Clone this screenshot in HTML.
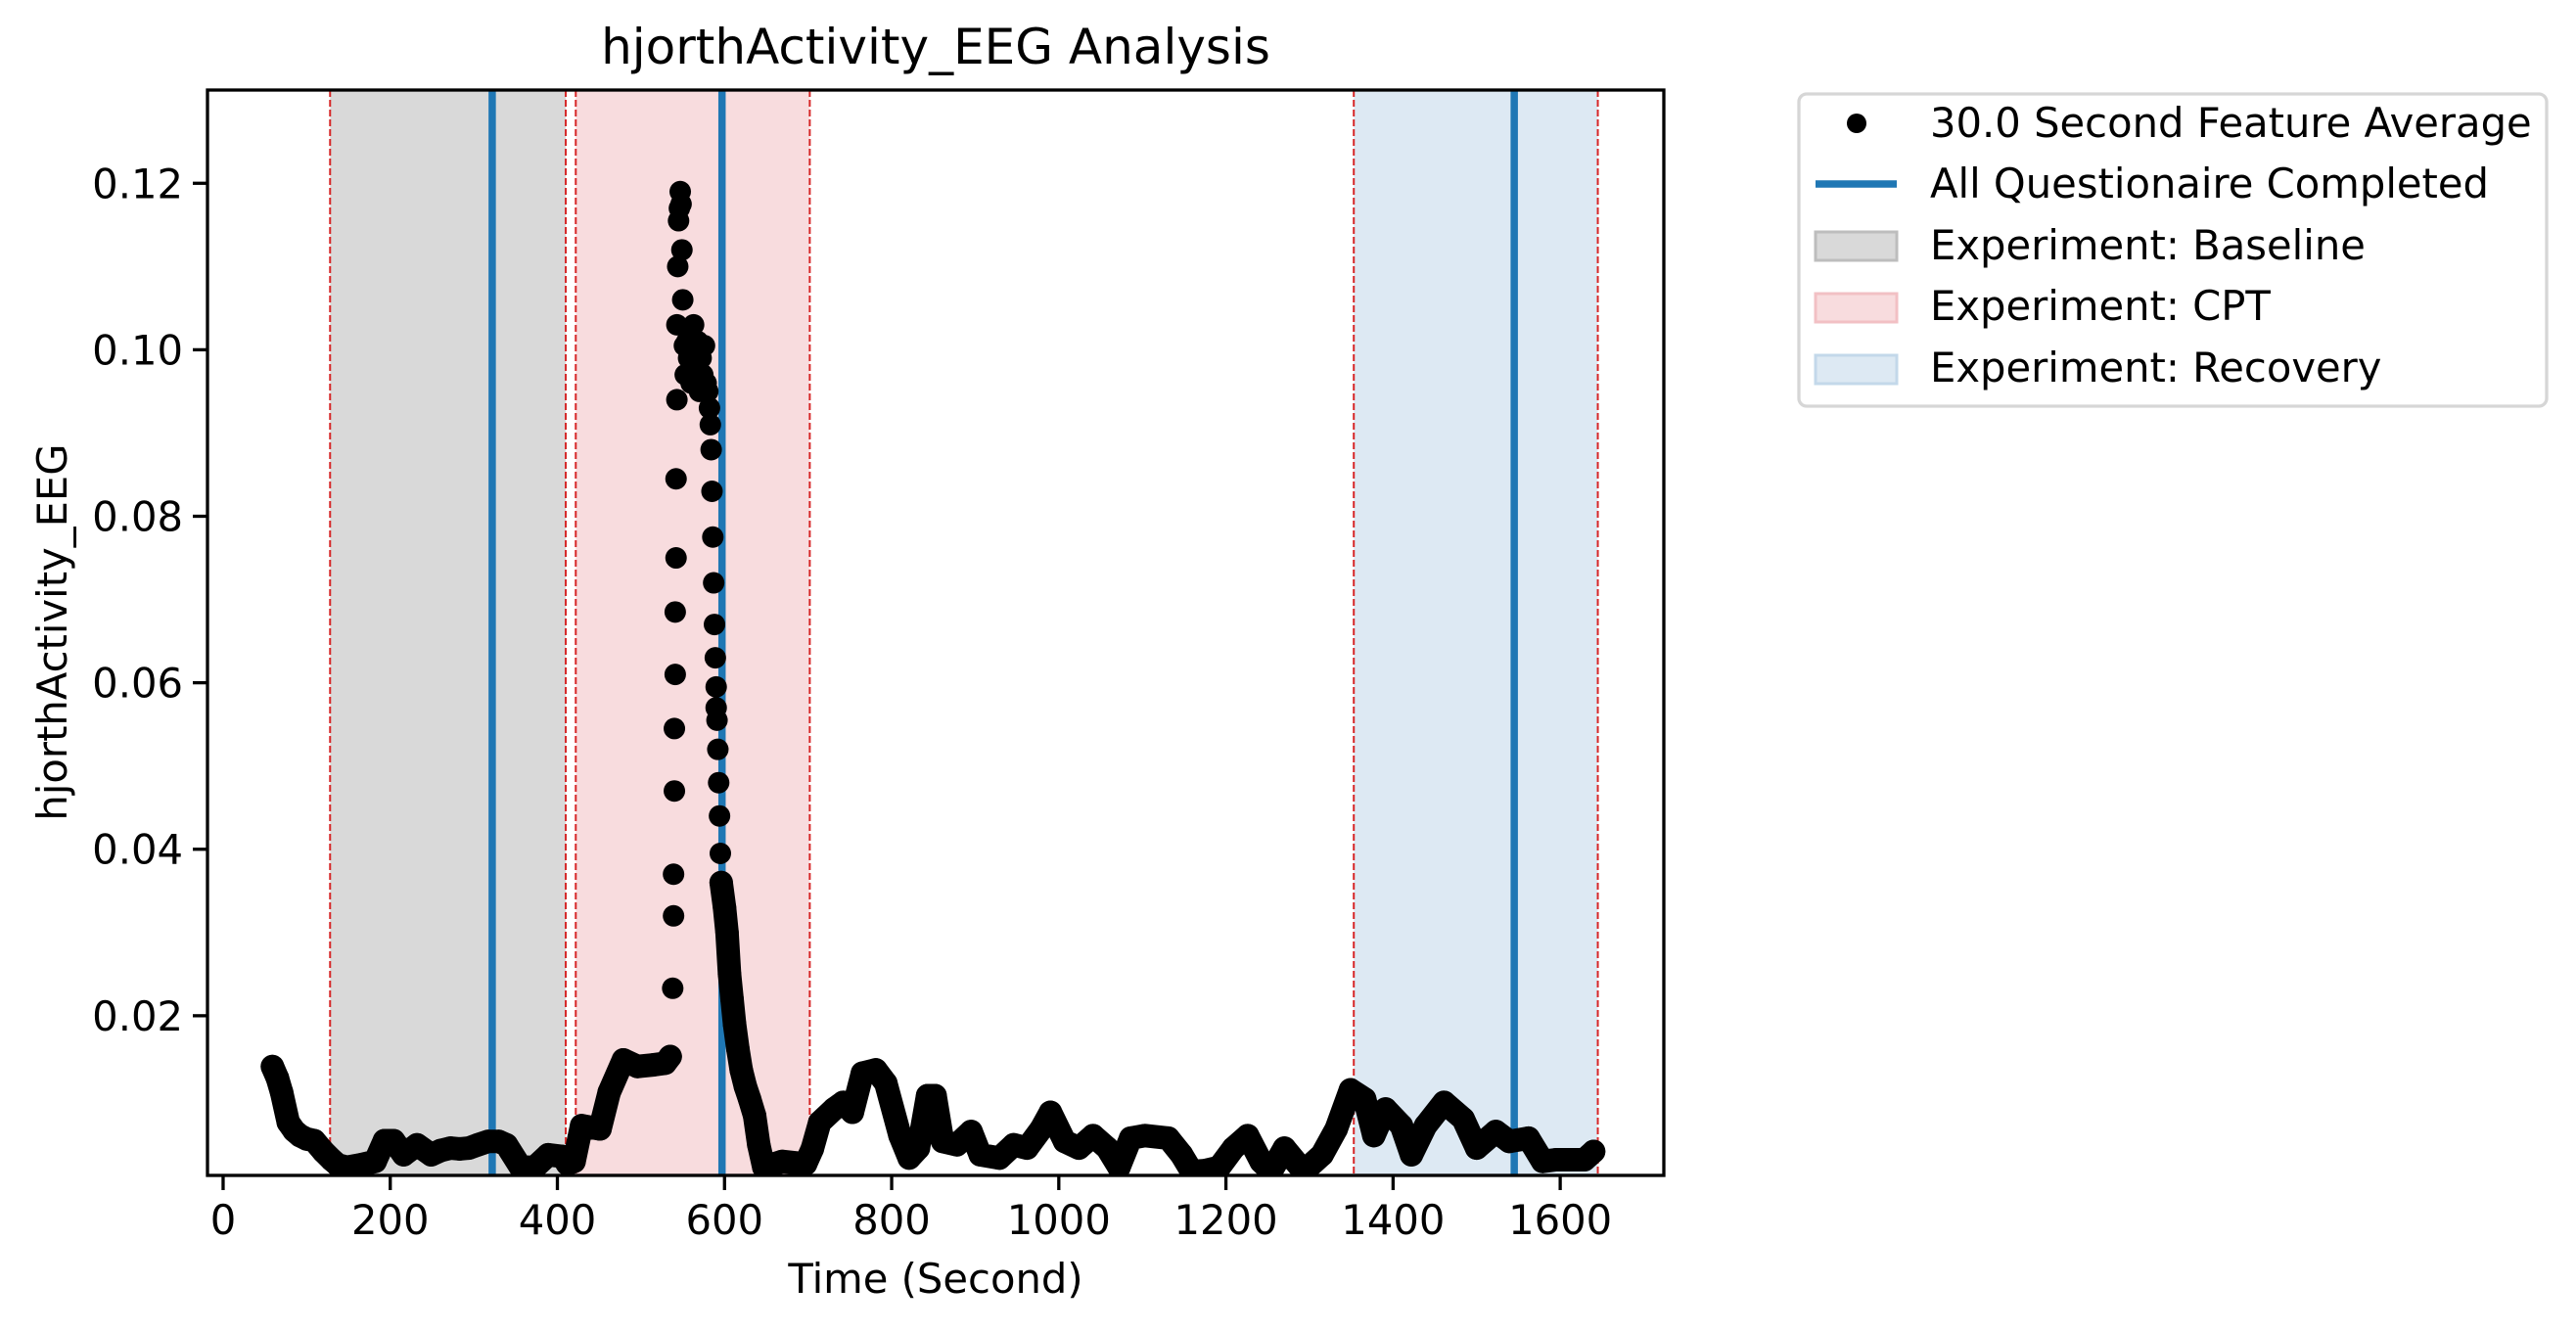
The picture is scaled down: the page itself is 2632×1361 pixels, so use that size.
<!DOCTYPE html>
<html><head><meta charset="utf-8"><style>
html,body{margin:0;padding:0;background:#fff}
svg{display:block;font-family:"DejaVu Sans","Liberation Sans",sans-serif}
</style></head><body>
<svg id="chart" width="2632" height="1361" viewBox="0 0 2632 1361" xmlns="http://www.w3.org/2000/svg">
<defs><clipPath id="plotclip"><rect x="212" y="92" width="1488" height="1109"/></clipPath></defs>
<rect width="2632" height="1361" fill="#fff"/>
<g id="spans" clip-path="url(#plotclip)"></g>
<g id="qlines" clip-path="url(#plotclip)"></g>
<g id="series" clip-path="url(#plotclip)"></g>
<rect x="212" y="92" width="1488" height="1109" fill="none" stroke="#000" stroke-width="3.3"/>
<g id="xticks"></g><g id="yticks"></g>
<text x="956" y="65" font-size="50" text-anchor="middle">hjorthActivity_EEG Analysis</text>
<text x="956" y="1321" font-size="41.7" text-anchor="middle">Time (Second)</text>
<text transform="translate(68,646) rotate(-90)" font-size="41.7" text-anchor="middle">hjorthActivity_EEG</text>
<g>
<rect x="1838" y="96" width="764" height="319" rx="8" fill="#fff" stroke="#d6d6d6" stroke-width="3.3"/>
<g><circle cx="1897" cy="126" r="10" fill="#000"/><text x="1972" y="140" font-size="41.7">30.0 Second Feature Average</text></g>
<g><line x1="1855" y1="188" x2="1938" y2="188" stroke="#1f77b4" stroke-width="7.5"/><text x="1972" y="202" font-size="41.7">All Questionaire Completed</text></g>
<g><rect x="1855" y="237" width="83" height="29" fill="#d9d9d9" stroke="#bdbdbd" stroke-width="3"/><text x="1972" y="265" font-size="41.7">Experiment: Baseline</text></g>
<g><rect x="1855" y="300" width="83" height="29" fill="#f8dcde" stroke="#f2c0c4" stroke-width="3"/><text x="1972" y="327" font-size="41.7">Experiment: CPT</text></g>
<g><rect x="1855" y="363" width="83" height="29" fill="#dde9f3" stroke="#c3d8ea" stroke-width="3"/><text x="1972" y="390" font-size="41.7">Experiment: Recovery</text></g>
</g>
</svg>
<script>
const xTicks=[0,200,400,600,800,1000,1200,1400,1600];
const yTicks=[0.02,0.04,0.06,0.08,0.10,0.12];
const yTickLabels=["0.02","0.04","0.06","0.08","0.10","0.12"];
const spanStarts=[128,422,1353];
const spanEnds=[410,702,1645];
const spanNames=["baseline","cpt","recovery"];
const questionaireTimes=[322,597,1545];
const traceX=[59,65,70,78,85,92,100,109,120,130,137,148,165,182,193,204,216,232,249,260,272,283,294,305,317,330,339,356,373,389,406,412,420,429,451,462,479,496,515,529,535,
596,600,603,606,609,612,616,620,625,630,636,641,647,669,697,705,714,731,742,753,765,781,793,810,821,832,843,852,861,878,895,906,929,946,962,979,990,1007,1024,1041,1058,1072,1086,1103,1131,1147,1159,1175,1192,1209,1226,1242,1254,1270,1293,1315,1332,1349,1366,1377,1391,1410,1422,1439,1461,1484,1500,1523,1539,1562,1579,1595,1612,1629,1640];
const traceY=[.0139,.0125,.0108,.0072,.0062,.0056,.0052,.0050,.0037,.0027,.0021,.0018,.0021,.0025,.0050,.0050,.0033,.0045,.0033,.0038,.0041,.0040,.0041,.0045,.0049,.0049,.0045,.0018,.0018,.0033,.0031,.0022,.0025,.0068,.0064,.0108,.0147,.0139,.0141,.0143,.0151,
.036,.033,.030,.025,.022,.019,.016,.0135,.0115,.010,.0080,.0045,.0018,.0025,.0022,.0040,.0072,.0088,.0096,.0084,.0131,.0135,.0119,.0056,.0029,.0041,.0104,.0104,.0049,.0045,.0061,.0033,.0029,.0045,.0041,.0064,.0084,.0049,.0041,.0056,.0041,.0018,.0053,.0056,.0053,.0033,.0013,.0014,.0018,.0041,.0056,.0025,.0013,.0041,.0013,.0033,.0064,.0111,.0100,.0056,.0088,.0068,.0033,.0068,.0096,.0076,.0041,.0061,.0049,.0053,.0025,.0027,.0027,.0027,.0037];
const spikeX=[538,539,539,540,540,541,541,542,542,543,543,544,545,546,547,548,549,550,552,553,555,557,560,563,566,568,570,572,574,576,578,580,582,583,584,585,586,587,588,589,590,590,591,592,593,594,595];
const spikeY=[.0233,.032,.037,.047,.0545,.061,.0685,.075,.0845,.094,.103,.110,.1155,.117,.119,.1175,.112,.106,.1005,.097,.101,.099,.096,.103,.098,.101,.095,.099,.097,.1005,.096,.095,.093,.091,.088,.083,.0775,.072,.067,.063,.0595,.057,.0555,.052,.048,.044,.0395];
const NS='http://www.w3.org/2000/svg';
const X0=212,X1=1700,Y0=1201,Y1=92,XMIN=-18.7,XMAX=1724,YMIN=0.00082,YMAX=0.1312;
function sx(v){return X0+(v-XMIN)/(XMAX-XMIN)*(X1-X0);}
function sy(v){return Y0-(v-YMIN)/(YMAX-YMIN)*(Y0-Y1);}
function mk(tag,attrs,parent){const e=document.createElementNS(NS,tag);for(const k in attrs)e.setAttribute(k,attrs[k]);parent.appendChild(e);return e;}
const spans=document.getElementById('spans');
const fills=['#d9d9d9','#f8dcde','#dde9f3'];
for(let i=0;i<spanStarts.length;i++){
  const r=mk('rect',{x:sx(spanStarts[i]),y:Y1,width:sx(spanEnds[i])-sx(spanStarts[i]),height:Y0-Y1,fill:fills[i]},spans);
  
  
  [spanStarts[i],spanEnds[i]].forEach(t=>{
    const l=mk('line',{x1:sx(t),x2:sx(t),y1:Y1,y2:Y0,stroke:'#d62728','stroke-width':2,'stroke-dasharray':'7,3'},spans);
    
    
  });
}
const ql=document.getElementById('qlines');
questionaireTimes.forEach(t=>{
  const l=mk('line',{x1:sx(t),x2:sx(t),y1:Y1,y2:Y0,stroke:'#1f77b4','stroke-width':7.5},ql);
  
  
});
const ser=document.getElementById('series');
let seg=[];
function flush(){if(seg.length>1){const p=mk('polyline',{points:seg.join(' '),fill:'none',stroke:'#000','stroke-width':24,'stroke-linejoin':'round','stroke-linecap':'round'},ser);
  
  }seg=[];}
for(let i=0;i<traceX.length;i++){
  if(i>0&&traceX[i]-traceX[i-1]>50)flush();
  seg.push(sx(traceX[i])+','+sy(traceY[i]));
}
flush();
for(let i=0;i<traceX.length;i++){
  const c=mk('circle',{cx:sx(traceX[i]),cy:sy(traceY[i]),r:12,fill:'#000'},ser);
  
  
}
for(let i=0;i<spikeX.length;i++){
  const c=mk('circle',{cx:sx(spikeX[i]),cy:sy(spikeY[i]),r:11,fill:'#000'},ser);
  
  
}
const xt=document.getElementById('xticks');
xTicks.forEach(t=>{
  const l=mk('line',{x1:sx(t),x2:sx(t),y1:Y0,y2:Y0+15,stroke:'#000','stroke-width':3.3},xt);
  
  
  const tx=mk('text',{x:sx(t),y:Y0+60,'font-size':41.7,'text-anchor':'middle'},xt);
  tx.textContent=String(t);
  
  
});
const yt=document.getElementById('yticks');
yTicks.forEach((t,i)=>{
  const l=mk('line',{x1:X0-15,x2:X0,y1:sy(t),y2:sy(t),stroke:'#000','stroke-width':3.3},yt);
  
  
  const tx=mk('text',{x:X0-25,y:sy(t)+15,'font-size':41.7,'text-anchor':'end'},yt);
  tx.textContent=yTickLabels[i];
  
  
});
</script>
</body></html>
